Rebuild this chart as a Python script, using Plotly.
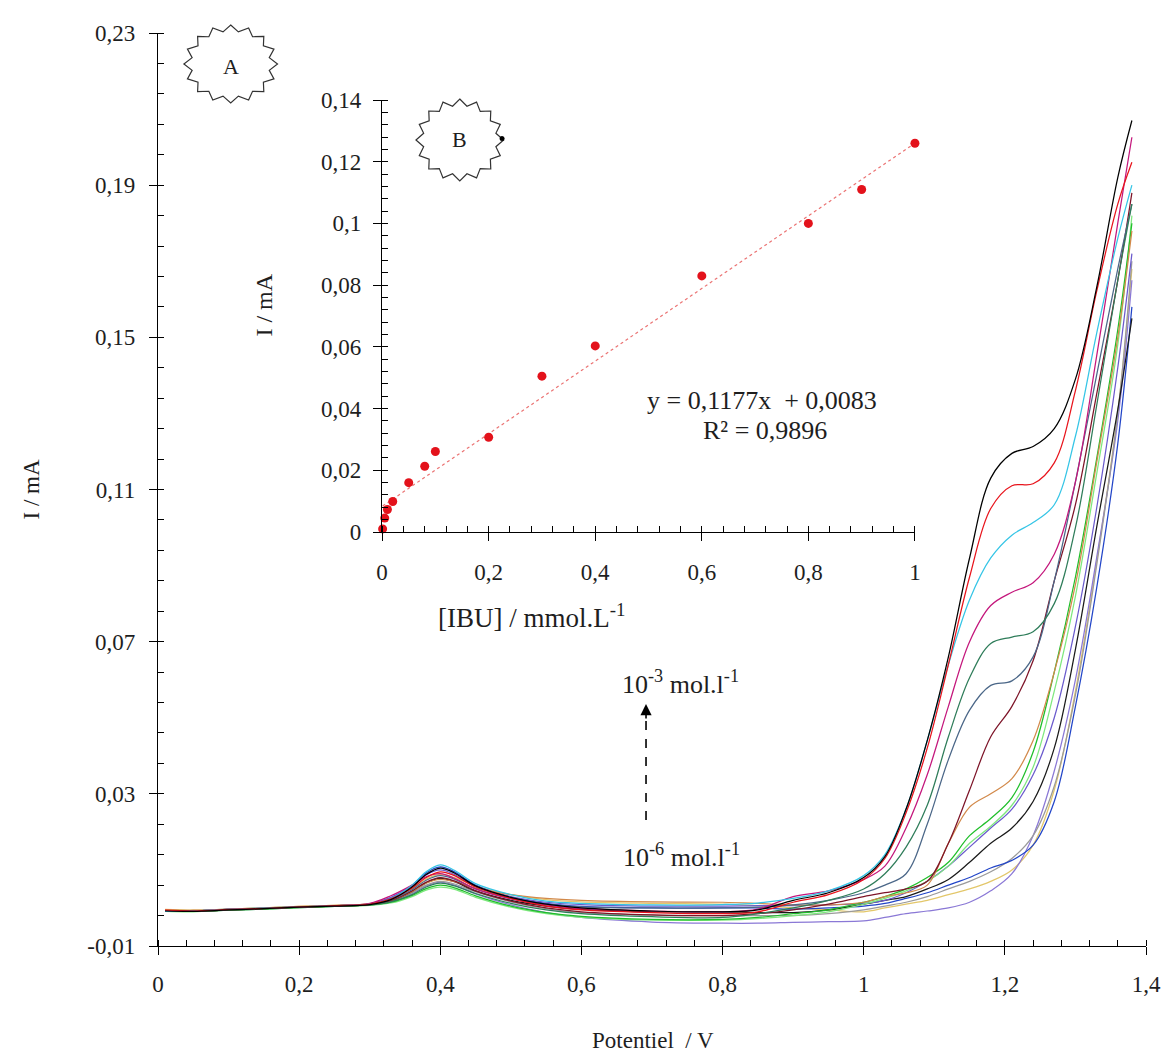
import math
import plotly.graph_objects as go

# ---------------- main voltammograms ----------------
potential = [0.01, 0.05, 0.10, 0.15, 0.20, 0.25, 0.30, 0.33, 0.36, 0.38, 0.40, 0.42,
             0.45, 0.50, 0.55, 0.60, 0.70, 0.80, 0.85, 0.90, 0.95, 1.00, 1.03, 1.06,
             1.09, 1.12, 1.15, 1.18, 1.21, 1.24, 1.27, 1.30, 1.33, 1.36, 1.38]

i_black_a = [-0.0008, -0.0009, -0.0005, -0.0002, 0.0002, 0.0005, 0.0009, 0.0022, 0.0055, 0.0088, 0.0105, 0.0092,
             0.0058, 0.0028, 0.0010, 0.0000, -0.0008, -0.0010, -0.0005, 0.0020, 0.0040, 0.0080, 0.0135, 0.0260,
             0.0440, 0.0660, 0.0920, 0.1130, 0.1195, 0.1213, 0.1260, 0.1390, 0.1630, 0.1920, 0.2070]
i_red = [-0.0006, -0.0008, -0.0004, -0.0001, 0.0003, 0.0006, 0.0010, 0.0024, 0.0052, 0.0080, 0.0095, 0.0085,
         0.0055, 0.0025, 0.0005, -0.0005, -0.0012, -0.0015, -0.0010, 0.0015, 0.0035, 0.0075, 0.0130, 0.0250,
         0.0420, 0.0640, 0.0870, 0.1050, 0.1110, 0.1115, 0.1170, 0.1360, 0.1620, 0.1850, 0.1960]
i_cyan = [-0.0009, -0.0008, -0.0003, 0.0000, 0.0003, 0.0006, 0.0010, 0.0025, 0.0060, 0.0095, 0.0113, 0.0099,
          0.0064, 0.0035, 0.0018, 0.0012, 0.0008, 0.0009, 0.0013, 0.0025, 0.0045, 0.0085, 0.0140, 0.0260,
          0.0440, 0.0640, 0.0810, 0.0920, 0.0980, 0.1013, 0.1060, 0.1240, 0.1510, 0.1760, 0.1900]
i_magenta = [-0.0007, -0.0008, -0.0004, -0.0001, 0.0002, 0.0006, 0.0012, 0.0032, 0.0060, 0.0082, 0.0090, 0.0078,
             0.0050, 0.0024, 0.0008, -0.0002, -0.0008, -0.0010, -0.0003, 0.0030, 0.0045, 0.0075, 0.0110, 0.0210,
             0.0350, 0.0530, 0.0700, 0.0795, 0.0830, 0.0855, 0.0930, 0.1120, 0.1450, 0.1800, 0.2026]
i_teal = [-0.0008, -0.0009, -0.0005, -0.0002, 0.0002, 0.0005, 0.0008, 0.0016, 0.0035, 0.0055, 0.0065, 0.0058,
          0.0038, 0.0012, -0.0005, -0.0015, -0.0023, -0.0025, -0.0015, 0.0000, 0.0020, 0.0050, 0.0090, 0.0160,
          0.0270, 0.0450, 0.0605, 0.0695, 0.0712, 0.0726, 0.0800, 0.1000, 0.1320, 0.1650, 0.1850]
i_slate = [-0.0008, -0.0008, -0.0004, -0.0001, 0.0003, 0.0006, 0.0010, 0.0022, 0.0048, 0.0073, 0.0085, 0.0076,
           0.0050, 0.0025, 0.0010, 0.0003, 0.0000, 0.0000, 0.0002, 0.0008, 0.0020, 0.0040, 0.0060, 0.0090,
           0.0220, 0.0390, 0.0520, 0.0585, 0.0597, 0.0660, 0.0860, 0.1120, 0.1400, 0.1680, 0.1850]
i_maroon = [-0.0007, -0.0009, -0.0005, -0.0002, 0.0002, 0.0005, 0.0009, 0.0020, 0.0045, 0.0068, 0.0080, 0.0071,
            0.0045, 0.0018, 0.0000, -0.0010, -0.0018, -0.0020, -0.0015, -0.0005, 0.0010, 0.0030, 0.0040, 0.0050,
            0.0070, 0.0170, 0.0310, 0.0450, 0.0530, 0.0650, 0.0860, 0.1060, 0.1350, 0.1650, 0.1880]
i_orange = [-0.0005, -0.0006, -0.0003, 0.0000, 0.0004, 0.0007, 0.0011, 0.0020, 0.0043, 0.0065, 0.0075, 0.0069,
            0.0052, 0.0035, 0.0025, 0.0020, 0.0016, 0.0015, 0.0012, 0.0008, 0.0008, 0.0015, 0.0030, 0.0040,
            0.0060, 0.0170, 0.0265, 0.0300, 0.0340, 0.0440, 0.0620, 0.0850, 0.1170, 0.1500, 0.1780]
i_green = [-0.0008, -0.0009, -0.0006, -0.0003, 0.0001, 0.0004, 0.0008, 0.0015, 0.0033, 0.0051, 0.0060, 0.0053,
           0.0032, 0.0005, -0.0012, -0.0022, -0.0030, -0.0030, -0.0025, -0.0015, -0.0005, 0.0015, 0.0030, 0.0050,
           0.0080, 0.0120, 0.0190, 0.0235, 0.0290, 0.0410, 0.0620, 0.0870, 0.1180, 0.1520, 0.1800]
i_lime = [-0.0009, -0.0010, -0.0006, -0.0003, 0.0001, 0.0004, 0.0007, 0.0013, 0.0030, 0.0047, 0.0055, 0.0049,
          0.0028, 0.0002, -0.0015, -0.0025, -0.0032, -0.0032, -0.0028, -0.0020, -0.0010, 0.0010, 0.0025, 0.0045,
          0.0070, 0.0110, 0.0170, 0.0215, 0.0270, 0.0370, 0.0570, 0.0820, 0.1140, 0.1480, 0.1820]
i_purple = [-0.0008, -0.0008, -0.0004, -0.0001, 0.0002, 0.0006, 0.0011, 0.0028, 0.0058, 0.0087, 0.0100, 0.0088,
            0.0058, 0.0030, 0.0015, 0.0009, 0.0005, 0.0005, 0.0006, 0.0006, 0.0008, 0.0012, 0.0020, 0.0040,
            0.0070, 0.0110, 0.0160, 0.0210, 0.0260, 0.0350, 0.0500, 0.0740, 0.1050, 0.1420, 0.1720]
i_black_b = [-0.0008, -0.0009, -0.0005, -0.0002, 0.0002, 0.0005, 0.0009, 0.0019, 0.0043, 0.0066, 0.0078, 0.0069,
             0.0045, 0.0020, 0.0005, -0.0004, -0.0010, -0.0010, -0.0012, -0.0012, -0.0005, 0.0010, 0.0020, 0.0030,
             0.0050, 0.0075, 0.0120, 0.0170, 0.0210, 0.0280, 0.0420, 0.0680, 0.1000, 0.1310, 0.1550]
i_blue = [-0.0007, -0.0008, -0.0004, -0.0001, 0.0003, 0.0006, 0.0010, 0.0026, 0.0060, 0.0092, 0.0108, 0.0095,
          0.0060, 0.0028, 0.0012, 0.0004, 0.0000, 0.0000, 0.0000, -0.0003, 0.0000, 0.0005, 0.0012, 0.0025,
          0.0040, 0.0060, 0.0080, 0.0105, 0.0125, 0.0165, 0.0280, 0.0530, 0.0840, 0.1220, 0.1580]
i_gray = [-0.0008, -0.0008, -0.0005, -0.0002, 0.0002, 0.0005, 0.0009, 0.0018, 0.0040, 0.0060, 0.0070, 0.0063,
          0.0042, 0.0016, -0.0002, -0.0012, -0.0019, -0.0020, -0.0020, -0.0020, -0.0015, -0.0005, 0.0005, 0.0015,
          0.0030, 0.0050, 0.0070, 0.0095, 0.0130, 0.0190, 0.0320, 0.0560, 0.0900, 0.1300, 0.1700]
i_lavender = [-0.0008, -0.0009, -0.0006, -0.0003, 0.0001, 0.0004, 0.0008, 0.0017, 0.0038, 0.0058, 0.0068, 0.0060,
              0.0037, 0.0008, -0.0012, -0.0025, -0.0037, -0.0040, -0.0040, -0.0038, -0.0036, -0.0034, -0.0025, -0.0015,
              -0.0008, 0.0000, 0.0015, 0.0045, 0.0090, 0.0190, 0.0360, 0.0600, 0.0920, 0.1280, 0.1650]
i_tan = [-0.0004, -0.0006, -0.0003, 0.0000, 0.0004, 0.0007, 0.0011, 0.0024, 0.0050, 0.0076, 0.0088, 0.0080,
         0.0058, 0.0035, 0.0022, 0.0016, 0.0012, 0.0010, 0.0006, 0.0000, -0.0005, -0.0010, 0.0000, 0.0010,
         0.0020, 0.0035, 0.0050, 0.0070, 0.0100, 0.0165, 0.0310, 0.0570, 0.0910, 0.1300, 0.1680]

curves = [
    (i_tan, "#e3c76a"), (i_lavender, "#8a78d6"), (i_gray, "#9a9a9a"), (i_blue, "#2346c8"),
    (i_black_b, "#1a1a1a"), (i_purple, "#6a5acd"), (i_lime, "#7ee87e"), (i_green, "#1fbf2a"),
    (i_orange, "#d2894a"), (i_maroon, "#7d1428"), (i_slate, "#4b6788"), (i_teal, "#2f7d5a"),
    (i_magenta, "#c4177c"), (i_cyan, "#35c5e6"), (i_red, "#e8141c"), (i_black_a, "#000000"),
]

# ---------------- calibration inset ----------------
conc_ibu = [0.001, 0.005, 0.01, 0.02, 0.05, 0.08, 0.1, 0.2, 0.3, 0.4, 0.6, 0.8, 0.9, 1.0]
peak_current = [0.001, 0.0045, 0.0073, 0.0099, 0.016, 0.0213, 0.0261, 0.0307, 0.0505, 0.0603,
                0.083, 0.100, 0.111, 0.126]
fit_slope = 0.1177
fit_intercept = 0.0083
fit_x = [0.001, 1.0]

main_ytickvals = [-0.01, 0.03, 0.07, 0.11, 0.15, 0.19, 0.23]
main_yticktext = ["-0,01", "0,03", "0,07", "0,11", "0,15", "0,19", "0,23"]
inset_ytickvals = [0, 0.02, 0.04, 0.06, 0.08, 0.10, 0.12, 0.14]
inset_yticktext = ["0", "0,02", "0,04", "0,06", "0,08", "0,1", "0,12", "0,14"]

FONT = "Liberation Serif"
TXT = "#1e1e1e"

fig = go.Figure()
for vals, col in curves:
    fig.add_trace(go.Scatter(x=potential, y=vals, mode="lines",
                             line=dict(color=col, width=1.25, shape="spline", smoothing=1.0),
                             xaxis="x", yaxis="y", hoverinfo="skip"))

fig.add_trace(go.Scatter(x=fit_x, y=[fit_slope * v + fit_intercept for v in fit_x], mode="lines",
                         line=dict(color="rgba(232,90,90,0.85)", width=1.2, dash="dot"),
                         xaxis="x2", yaxis="y2"))
fig.add_trace(go.Scatter(x=conc_ibu, y=peak_current, mode="markers",
                         marker=dict(color="#e3121b", size=9),
                         cliponaxis=False, xaxis="x2", yaxis="y2"))

# plot-area geometry in pixels
W, H = 1173, 1055
L, R, T, B = 158, 23, 33, 109
PW, PH = W - L - R, H - T - B


def px(x):
    return (x - L) / PW


def py(y):
    return (H - B - y) / PH


def axis_style(size):
    return dict(ticks="outside", ticklen=8, tickwidth=1.2, tickcolor="black",
                showline=True, linecolor="black", linewidth=1.3, showgrid=False, zeroline=False,
                tickfont=dict(family=FONT, size=size, color=TXT))


fig.update_layout(
    width=W, height=H, margin=dict(l=L, r=R, t=T, b=B),
    plot_bgcolor="white", paper_bgcolor="white", showlegend=False,
    separators=", ",
    xaxis=dict(range=[0, 1.4], tick0=0, dtick=0.2, ticklabelstandoff=9,
               minor=dict(tick0=0, dtick=0.04, ticks="inside", ticklen=6, tickcolor="black"),
               **axis_style(23)),
    yaxis=dict(range=[-0.01, 0.23], tickmode="array", tickvals=main_ytickvals, ticktext=main_yticktext,
               ticklabelstandoff=9,
               minor=dict(tick0=-0.01, dtick=0.008, ticks="inside", ticklen=6, tickcolor="black"),
               **axis_style(23)),
    xaxis2=dict(domain=[px(383), px(918)], anchor="y2", range=[0, 1], tick0=0, dtick=0.2,
                ticklabelstandoff=11,
                minor=dict(tick0=0, dtick=0.04, ticks="inside", ticklen=6, tickcolor="black"),
                **axis_style(23)),
    yaxis2=dict(domain=[py(532), py(100)], anchor="x2", range=[0, 0.14], tickmode="array",
                tickvals=inset_ytickvals, ticktext=inset_yticktext, ticklabelstandoff=7,
                minor=dict(tick0=0, dtick=0.004, ticks="inside", ticklen=6, tickcolor="black"),
                **axis_style(23)),
)


def star_path(cx, cy, rx, ry, n=16, inner=0.84):
    pts = []
    for k in range(2 * n):
        a = math.pi * k / n - math.pi / 2
        f = 1.0 if k % 2 == 0 else inner
        pts.append((px(cx + rx * f * math.cos(a)), py(cy + ry * f * math.sin(a))))
    return "M " + " L ".join(f"{x:.5f},{y:.5f}" for x, y in pts) + " Z"


for cx, cy, rx, ry in [(231, 64, 47, 39), (461, 140, 44, 41)]:
    fig.add_shape(type="path", path=star_path(cx, cy, rx, ry), xref="paper", yref="paper",
                  line=dict(color="#333333", width=1.2), fillcolor="white", layer="above")

# dashed concentration arrow
fig.add_shape(type="line", xref="paper", yref="paper", x0=px(648), x1=px(648), y0=py(820), y1=py(716),
              line=dict(color="black", width=1.6, dash="dash"))

annotations = [
    dict(x=px(231), y=py(66), text="A", size=22),
    dict(x=px(461), y=py(140), text="B", size=22),
    dict(x=px(30), y=py(490), text="I / mA", textangle=-90, size=23),
    dict(x=px(655), y=py(1040), text="Potentiel  / V", size=23),
    dict(x=px(264), y=py(305), text="I / mA", textangle=-90, size=24),
    dict(x=px(533), y=py(616), text="[IBU] / mmol.L<sup>-1</sup>", size=27),
    dict(x=px(764), y=py(400), text="y = 0,1177x  + 0,0083", size=26),
    dict(x=px(767), y=py(430), text="R² = 0,9896", size=26),
    dict(x=px(683), y=py(682), text="10<sup>-3</sup> mol.l<sup>-1</sup>", size=26),
    dict(x=px(684), y=py(855), text="10<sup>-6</sup> mol.l<sup>-1</sup>", size=26),
]
for a in annotations:
    size = a.pop("size")
    fig.add_annotation(xref="paper", yref="paper", showarrow=False, xanchor="center", yanchor="middle",
                       font=dict(family=FONT, size=size, color=TXT), **a)

fig.add_annotation(xref="paper", yref="paper", x=px(648), y=py(704), ax=0, ay=16, text="",
                   showarrow=True, arrowhead=2, arrowsize=1.4, arrowwidth=1.6, arrowcolor="black")
fig.add_shape(type="circle", xref="paper", yref="paper", x0=px(501), x1=px(506), y0=py(141), y1=py(136),
              fillcolor="black", line=dict(width=0))

fig.write_html("out.html")
